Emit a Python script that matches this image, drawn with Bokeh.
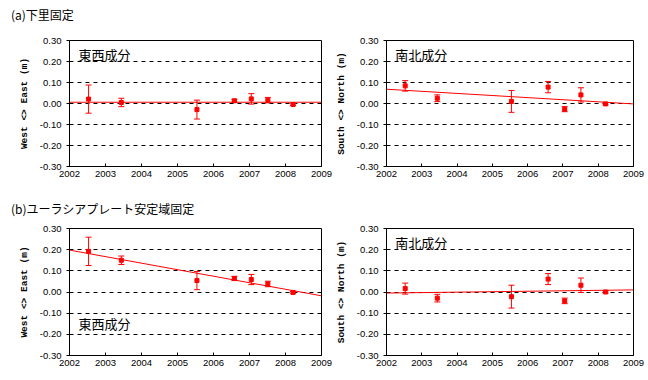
from bokeh.plotting import figure
from bokeh.layouts import column, row
from bokeh.models import Label, Whisker, TeeHead, ColumnDataSource, FixedTicker, NumeralTickFormatter, Div
from bokeh.embed import file_html
from bokeh.resources import INLINE

years = [2002.53, 2003.44, 2005.54, 2006.58, 2007.05, 2007.51, 2008.21]

a_ew = [0.021, 0.005, -0.029, 0.013, 0.022, 0.016, -0.005]
a_ew_err = [0.067, 0.020, 0.045, 0.007, 0.025, 0.013, 0.004]
a_ns = [0.084, 0.025, 0.010, 0.078, -0.027, 0.041, -0.002]
a_ns_err = [0.025, 0.016, 0.052, 0.027, 0.012, 0.034, 0.005]
b_ew = [0.192, 0.150, 0.054, 0.064, 0.059, 0.038, -0.002]
b_ew_err = [0.067, 0.020, 0.043, 0.010, 0.024, 0.013, 0.004]
b_ns = [0.016, -0.029, -0.022, 0.061, -0.042, 0.032, 0.000]
b_ns_err = [0.026, 0.018, 0.054, 0.026, 0.013, 0.034, 0.005]

fit_x = [2002, 2009]
fit_a_ew = [0.006, 0.006]
fit_a_ns = [0.068, -0.002]
fit_b_ew = [0.198, -0.018]
fit_b_ns = [-0.005, 0.010]

x_ticks = [2002, 2003, 2004, 2005, 2006, 2007, 2008, 2009]
y_ticks = [-0.3, -0.2, -0.1, 0.0, 0.1, 0.2, 0.3]

title_a = "(a)下里固定"
title_b = "(b)ユーラシアプレート安定域固定"
lab_ew = "東西成分"
lab_ns = "南北成分"
ylab_ew = "West <> East (m)"
ylab_ns = "South <> North (m)"

RED = "#ff0000"
JP = "Noto Sans CJK JP"


def make(vals, errs, fit, ylabel, comp, comp_y, left, right, top, bottom, width, height):
    p = figure(x_range=(2002, 2009), y_range=(-0.3, 0.3),
               width=width, height=height, sizing_mode="fixed",
               min_border_left=left, min_border_right=right,
               min_border_top=top, min_border_bottom=bottom,
               output_backend="svg", toolbar_location=None)
    p.background_fill_color = "white"
    p.outline_line_color = "black"
    p.outline_line_width = 1
    p.outline_line_alpha = 1
    p.xgrid.visible = False
    p.ygrid.ticker = FixedTicker(ticks=y_ticks)
    p.ygrid.grid_line_color = "black"
    p.ygrid.grid_line_dash = "4 4"
    p.ygrid.grid_line_width = 1
    p.xaxis.ticker = FixedTicker(ticks=x_ticks)
    p.yaxis.ticker = FixedTicker(ticks=y_ticks)
    p.yaxis.formatter = NumeralTickFormatter(format="0.00")
    for ax in (p.xaxis[0], p.yaxis[0]):
        ax.axis_line_color = "black"
        ax.major_tick_line_color = "black"
        ax.minor_tick_line_color = None
        ax.major_label_text_font = "Liberation Sans"
        ax.major_label_text_font_size = "9.5px"
        ax.major_label_text_color = "black"
    p.xaxis.major_tick_in = 3
    p.xaxis.major_tick_out = 0
    p.xaxis.major_label_standoff = 4
    p.yaxis.major_tick_in = 0
    p.yaxis.major_tick_out = 3
    p.yaxis.major_label_standoff = 5
    p.yaxis.axis_label = ylabel
    p.yaxis.axis_label_text_font = "Liberation Mono"
    p.yaxis.axis_label_text_font_style = "bold"
    p.yaxis.axis_label_text_font_size = "9.5px"
    p.yaxis.axis_label_text_color = "black"
    p.yaxis.axis_label_standoff = 7

    src = ColumnDataSource(dict(x=years, y=vals,
                                lo=[v - e for v, e in zip(vals, errs)],
                                hi=[v + e for v, e in zip(vals, errs)]))
    p.line(fit_x, fit, line_color=RED, line_width=1)
    w = Whisker(source=src, base="x", lower="lo", upper="hi", line_color=RED, line_width=1,
                upper_head=TeeHead(size=6, line_color=RED, line_width=1),
                lower_head=TeeHead(size=6, line_color=RED, line_width=1))
    p.add_layout(w)
    p.scatter("x", "y", source=src, marker="square", size=4, fill_color=RED, line_color=RED)

    p.add_layout(Label(x=2002.25, y=comp_y, text=comp, text_font=JP, text_font_size="13px",
                       text_baseline="middle", text_color="black"))
    return p


def title_div(text, h, lh):
    return Div(text=text, width=648, height=h, sizing_mode="fixed",
               styles={"font-family": "'Noto Sans CJK JP'", "font-size": "12px",
                       "line-height": f"{lh}px", "padding-left": "11px", "margin": "0",
                       "color": "black", "white-space": "nowrap"})


div_a = title_div(title_a, 30, 30)
pa1 = make(a_ew, a_ew_err, fit_a_ew, ylab_ew, lab_ew, 0.233, 69, 11, 10, 24, 332, 160)
pa2 = make(a_ns, a_ns_err, fit_a_ns, ylab_ns, lab_ns, 0.233, 50, 15, 10, 24, 316, 160)
div_b = title_div(title_b, 34, 38)
pb1 = make(b_ew, b_ew_err, fit_b_ew, ylab_ew, lab_ew, -0.149, 69, 11, 4, 25, 332, 156)
pb2 = make(b_ns, b_ns_err, fit_b_ns, ylab_ns, lab_ns, 0.233, 50, 15, 4, 25, 316, 156)

layout = column(div_a, row(pa1, pa2, sizing_mode="fixed"),
                div_b, row(pb1, pb2, sizing_mode="fixed"),
                sizing_mode="fixed")
open("out.html", "w").write(file_html(layout, INLINE))
